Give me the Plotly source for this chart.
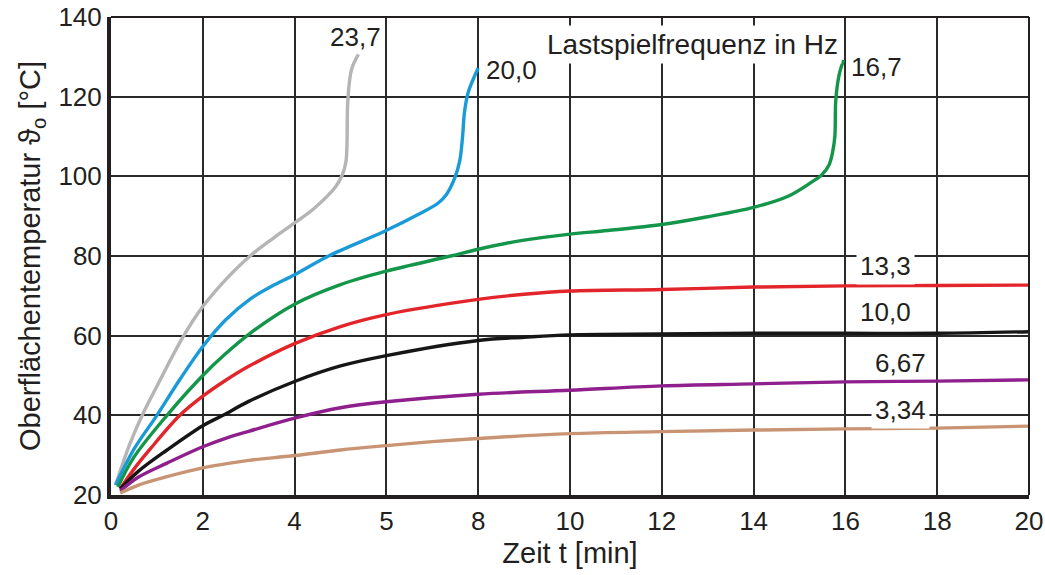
import plotly.graph_objects as go

# Surface temperature vs. time for several load-cycle frequencies
t_237 = [0.1, 0.4, 0.7, 1.0, 1.56, 2.0, 2.51, 3.03, 3.54, 4.0, 4.43, 4.89, 5.04, 5.12, 5.16, 5.24, 5.39]
T_237 = [22.5, 32.5, 40.5, 47.3, 59.5, 67.3, 74.2, 80, 84.5, 88.3, 92, 97.3, 100.4, 103.8, 119.1, 126.8, 130.6]

t_200 = [0.1, 0.5, 1.0, 1.5, 2.0, 2.5, 3.03, 3.5, 4.0, 4.74, 5.96, 6.69, 7.13, 7.3, 7.49, 7.6, 7.66,
         7.7, 7.78, 8.0]
T_200 = [22.5, 31.5, 40, 49, 57.3, 64, 69.2, 72.4, 75.3, 80, 86.2, 90.4, 93.3, 95.3, 99.6, 104, 110,
         116, 121, 127.2]

t_167 = [0.15, 0.5, 1.22, 2.0, 2.5, 3.03, 4.0, 5.0, 6.0, 7.4, 8.0, 9.0, 10.0, 10.82, 12.0, 12.97, 14.0,
         14.75, 15.27, 15.48, 15.64, 15.72, 15.77, 15.79, 15.86, 15.96]
T_167 = [22, 29.5, 40, 50, 55.5, 60.6, 67.9, 72.8, 76.2, 80, 81.7, 84, 85.5, 86.4, 87.9, 89.8, 92.2,
         95, 98.6, 100.3, 102.8, 106, 110, 119, 125.3, 129.2]

t_133 = [0.2, 0.5, 0.85, 1.5, 2.0, 2.5, 3.0, 4.0, 5.0, 6.0, 8.0, 9.0, 10.0, 12.0, 14.0, 16.0, 18.0, 20.0]
T_133 = [21.5, 26.5, 31.5, 40, 44.8, 48.8, 52.3, 58, 62.3, 65.3, 69.1, 70.4, 71.2, 71.6, 72.2, 72.5, 72.6, 72.7]

t_100 = [0.2, 0.6, 1.22, 2.0, 2.44, 3.0, 4.0, 5.0, 6.0, 8.0, 9.0, 10.0, 12.0, 14.0, 16.0, 18.0, 20.0]
T_100 = [21.5, 26, 31.3, 37.4, 40, 43.5, 48.5, 52.4, 55.0, 58.8, 59.6, 60.2, 60.4, 60.6, 60.6, 60.6, 61]

t_667 = [0.2, 0.6, 1.22, 2.0, 2.59, 3.0, 4.0, 5.0, 6.0, 8.0, 10.0, 12.0, 14.0, 16.0, 18.0, 20.0]
T_667 = [21, 24.5, 28, 32.1, 34.6, 36, 39.3, 41.9, 43.4, 45.3, 46.3, 47.4, 47.9, 48.4, 48.6, 48.9]

t_334 = [0.2, 0.6, 1.22, 2.0, 2.59, 3.0, 4.0, 5.0, 6.0, 7.0, 8.0, 10.0, 12.0, 14.0, 16.0, 18.0, 20.0]
T_334 = [20.5, 22.5, 24.6, 26.8, 28, 28.7, 29.9, 31.3, 32.4, 33.4, 34.2, 35.4, 35.9, 36.3, 36.6, 36.8, 37.3]

x_tickvals = [0, 2, 4, 6, 8, 10, 12, 14, 16, 18, 20]
x_ticktext = ["0", "2", "4", "5", "8", "10", "12", "14", "16", "18", "20"]
y_tickvals = [20, 40, 60, 80, 100, 120, 140]

series = [
    ("23,7", t_237, T_237, "#b5b5b5"),
    ("20,0", t_200, T_200, "#1b9ad8"),
    ("16,7", t_167, T_167, "#14964a"),
    ("13,3", t_133, T_133, "#e2252b"),
    ("10,0", t_100, T_100, "#161616"),
    ("6,67", t_667, T_667, "#8e1f8c"),
    ("3,34", t_334, T_334, "#c99474"),
]

# label text, x, y, white background
labels = [
    ("23,7", 5.32, 135.0, False),
    ("20,0", 8.73, 126.7, False),
    ("16,7", 16.67, 127.5, False),
    ("Lastspielfrequenz in Hz", 12.66, 133.2, True),
    ("13,3", 16.87, 77.5, True),
    ("10,0", 16.87, 66.0, False),
    ("6,67", 17.19, 53.1, False),
    ("3,34", 17.19, 41.3, True),
]

FONT = "Liberation Sans, Arial, sans-serif"
INK = "#231f20"

fig = go.Figure()
for name, xs, ys, color in series:
    fig.add_trace(go.Scatter(
        x=xs, y=ys, mode="lines", name=name,
        line=dict(color=color, width=3.4, shape="spline", smoothing=1.0),
        showlegend=False, hoverinfo="skip",
    ))

for text, lx, ly, bg in labels:
    fig.add_annotation(
        x=lx, y=ly, xref="x", yref="y", text=text, showarrow=False,
        font=dict(family=FONT, size=28 if len(text) > 5 else 26, color=INK),
        bgcolor="white" if bg else "rgba(0,0,0,0)", borderpad=3,
    )

# thin top and right frame
fig.add_shape(type="line", xref="paper", yref="paper", x0=0, x1=1, y0=1, y1=1,
              line=dict(color=INK, width=2))
fig.add_shape(type="line", xref="paper", yref="paper", x0=1, x1=1, y0=0, y1=1,
              line=dict(color=INK, width=2))

fig.update_layout(
    width=1045, height=575,
    margin=dict(l=111, r=16, t=17, b=80),
    paper_bgcolor="white", plot_bgcolor="white",
    font=dict(family=FONT, color=INK),
    xaxis=dict(
        range=[0, 20], tickvals=x_tickvals, ticktext=x_ticktext, automargin=False,
        showgrid=True, gridcolor="#2a2a2a", gridwidth=2,
        showline=True, linecolor=INK, linewidth=4, zeroline=False,
        ticks="", tickfont=dict(size=26, family=FONT, color=INK),
        title=dict(text="Zeit t [min]", font=dict(size=29, family=FONT, color=INK), standoff=8),
    ),
    yaxis=dict(
        range=[20, 140], tickvals=y_tickvals, automargin=False,
        showgrid=True, gridcolor="#2a2a2a", gridwidth=2,
        showline=True, linecolor=INK, linewidth=4, zeroline=False,
        ticks="", tickfont=dict(size=26, family=FONT, color=INK),
        title=dict(text="Oberflächentemperatur ϑ<sub>o</sub> [°C]",
                   font=dict(size=29, family=FONT, color=INK), standoff=10),
    ),
)

fig.write_html("out.html")
